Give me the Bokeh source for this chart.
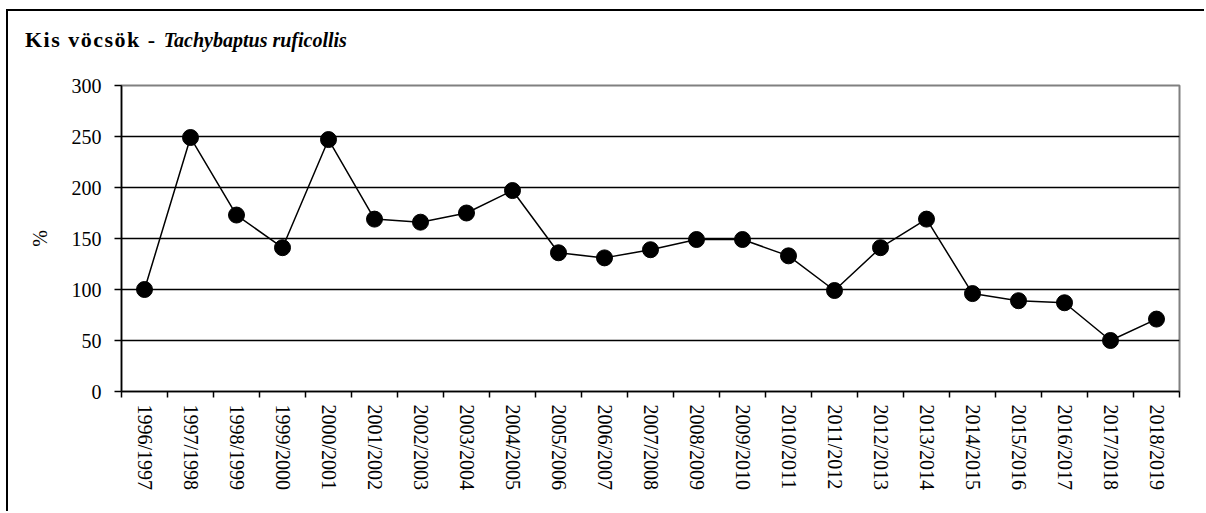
import numpy as np
from bokeh.plotting import figure
from bokeh.models import FixedTicker, Range1d, Div
from bokeh.layouts import column
from bokeh.embed import file_html
from bokeh.resources import INLINE

seasons = ["1996/1997", "1997/1998", "1998/1999", "1999/2000", "2000/2001",
           "2001/2002", "2002/2003", "2003/2004", "2004/2005", "2005/2006",
           "2006/2007", "2007/2008", "2008/2009", "2009/2010", "2010/2011",
           "2011/2012", "2012/2013", "2013/2014", "2014/2015", "2015/2016",
           "2016/2017", "2017/2018", "2018/2019"]
percent = [100, 249, 173, 141, 247, 169, 166, 175, 197, 136, 131, 139, 149,
           149, 133, 99, 141, 169, 96, 89, 87, 50, 71]
y_ticks = [0, 50, 100, 150, 200, 250, 300]

FONT = "Liberation Serif"
n = len(seasons)
xpos = np.arange(n) + 0.5

W = 1196
DIV_H = 60

title = Div(
    text=('<div style="font-family:\'Liberation Serif\'; font-size:22px; font-weight:bold; '
          'color:black; margin-left:17px; margin-top:16px; white-space:nowrap; line-height:normal">'
          '<span style="letter-spacing:1.5px">Kis vöcsök - </span>'
          '<i style="font-size:20px">Tachybaptus ruficollis</i></div>'),
    width=W, height=DIV_H, margin=0)

p = figure(width=W, height=440, output_backend="svg", toolbar_location=None,
           title=None, margin=0,
           x_range=Range1d(0, n), y_range=Range1d(0, 300),
           min_border_left=113, min_border_top=14, min_border_right=25,
           min_border_bottom=120)
p.outline_line_color = "#808080"
p.outline_line_width = 2
p.background_fill_color = "white"
p.border_fill_color = "white"

# x axis: labels at centres, ticks at category boundaries (minor ticks)
p.xaxis.ticker = FixedTicker(ticks=list(xpos), minor_ticks=list(range(n + 1)))
p.xaxis.major_label_overrides = {float(x): s for x, s in zip(xpos, seasons)}
p.xaxis.major_label_orientation = "vertical"
p.xaxis.major_tick_line_color = None
p.xaxis.major_tick_out = 5
p.xaxis.major_tick_in = 0
p.xaxis.minor_tick_line_color = "black"
p.xaxis.minor_tick_line_width = 1.5
p.xaxis.minor_tick_out = 6
p.xaxis.minor_tick_in = 0
p.xaxis.major_label_standoff = 7
p.xaxis.axis_line_color = "black"
p.xaxis.axis_line_width = 1.5
p.xaxis.major_label_text_font = FONT
p.xaxis.major_label_text_font_size = "20px"
p.xaxis.major_label_text_color = "black"

# y axis
p.yaxis.ticker = FixedTicker(ticks=y_ticks)
p.yaxis.major_tick_out = 7
p.yaxis.major_tick_in = 0
p.yaxis.minor_tick_line_color = None
p.yaxis.major_tick_line_color = "black"
p.yaxis.major_tick_line_width = 1.5
p.yaxis.axis_line_color = "black"
p.yaxis.axis_line_width = 1.5
p.yaxis.major_label_standoff = 13
p.yaxis.major_label_text_font = FONT
p.yaxis.major_label_text_font_size = "20px"
p.yaxis.major_label_text_color = "black"
p.yaxis.axis_label = "%"
p.yaxis.axis_label_text_font = FONT
p.yaxis.axis_label_text_font_size = "20px"
p.yaxis.axis_label_text_font_style = "normal"
p.yaxis.axis_label_text_color = "black"
p.yaxis.axis_label_standoff = 18

p.xgrid.grid_line_color = None
p.ygrid.ticker = FixedTicker(ticks=[v for v in y_ticks if 0 < v < 300])
p.ygrid.grid_line_color = "black"
p.ygrid.grid_line_width = 1.7

p.line(xpos, percent, line_color="black", line_width=1.5)
p.scatter(xpos, percent, size=16, fill_color="black", line_color="black")

layout = column(title, p, spacing=0,
                styles={"border-left": "2px solid black", "border-top": "2px solid black",
                        "margin-left": "6px", "margin-top": "9px",
                        "background-color": "white"})

open("out.html", "w").write(file_html(layout, INLINE))
